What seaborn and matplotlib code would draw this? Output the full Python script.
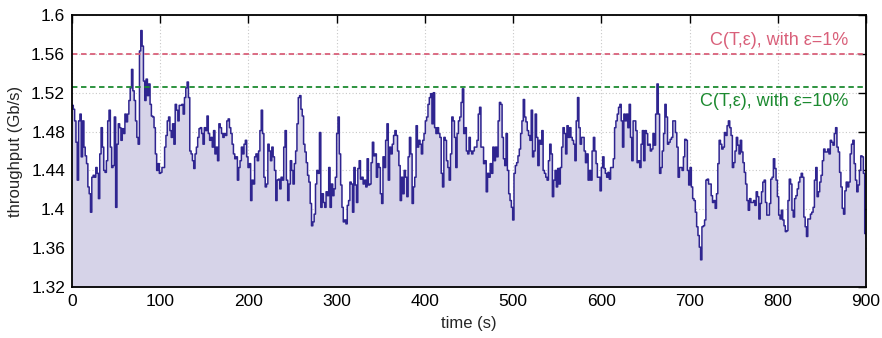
import numpy as np
import pandas as pd
import matplotlib
matplotlib.use("Agg")
import matplotlib.pyplot as plt
import seaborn as sns

# sampling interval (s)
dt = 1.5

# throughput samples (Gb/s), in consecutive time segments
seg_000_110 = [1.507, 1.503, 1.491, 1.469, 1.430, 1.491, 1.498, 1.454, 1.491, 1.464,
               1.455, 1.447, 1.423, 1.416, 1.397, 1.433, 1.435, 1.433, 1.443, 1.437,
               1.411, 1.457, 1.484, 1.464, 1.440, 1.438, 1.450, 1.491, 1.502, 1.464,
               1.443, 1.445, 1.495, 1.402, 1.467, 1.488, 1.484, 1.471, 1.483, 1.478,
               1.498, 1.490, 1.498, 1.512, 1.525, 1.544, 1.522, 1.512, 1.491, 1.474,
               1.467, 1.563, 1.584, 1.568, 1.532, 1.512, 1.534, 1.517, 1.529, 1.508,
               1.496, 1.495, 1.484, 1.457, 1.440, 1.447, 1.437, 1.438, 1.443, 1.443,
               1.464, 1.476, 1.491, 1.495]
seg_111_229 = [1.481, 1.474, 1.488, 1.467, 1.508, 1.502, 1.491, 1.507, 1.507, 1.508,
               1.498, 1.515, 1.525, 1.531, 1.515, 1.460, 1.457, 1.450, 1.442, 1.457,
               1.464, 1.474, 1.483, 1.484, 1.478, 1.467, 1.484, 1.481, 1.496, 1.478,
               1.471, 1.474, 1.464, 1.481, 1.457, 1.464, 1.450, 1.488, 1.484, 1.478,
               1.474, 1.478, 1.476, 1.491, 1.493, 1.484, 1.478, 1.467, 1.457, 1.452,
               1.454, 1.430, 1.443, 1.450, 1.464, 1.457, 1.467, 1.471, 1.454, 1.443,
               1.447, 1.409, 1.430, 1.426, 1.454, 1.457, 1.450, 1.460, 1.481, 1.502,
               1.478, 1.433, 1.423, 1.426, 1.467, 1.460, 1.450, 1.464, 1.454, 1.440]
seg_231_348 = [1.409, 1.430, 1.431, 1.421, 1.433, 1.430, 1.464, 1.481, 1.430, 1.409,
               1.426, 1.450, 1.440, 1.426, 1.447, 1.460, 1.488, 1.515, 1.517, 1.503,
               1.496, 1.467, 1.459, 1.448, 1.435, 1.428, 1.406, 1.383, 1.387, 1.395,
               1.426, 1.440, 1.437, 1.479, 1.402, 1.416, 1.407, 1.402, 1.418, 1.414,
               1.443, 1.402, 1.426, 1.414, 1.421, 1.433, 1.478, 1.495, 1.457, 1.425,
               1.402, 1.387, 1.389, 1.385, 1.404, 1.409, 1.428, 1.426, 1.397, 1.443,
               1.425, 1.407, 1.442, 1.450, 1.431, 1.433, 1.426, 1.430, 1.423, 1.452,
               1.425, 1.426, 1.448, 1.469, 1.455, 1.457, 1.433, 1.447, 1.443]
seg_350_467 = [1.416, 1.406, 1.454, 1.443, 1.471, 1.488, 1.430, 1.464, 1.457, 1.467,
               1.476, 1.481, 1.476, 1.460, 1.445, 1.409, 1.433, 1.416, 1.440, 1.433,
               1.413, 1.454, 1.474, 1.457, 1.406, 1.423, 1.433, 1.486, 1.464, 1.471,
               1.467, 1.457, 1.471, 1.478, 1.491, 1.495, 1.508, 1.515, 1.519, 1.488,
               1.520, 1.484, 1.478, 1.484, 1.478, 1.474, 1.437, 1.423, 1.474, 1.471,
               1.450, 1.443, 1.430, 1.457, 1.495, 1.491, 1.474, 1.443, 1.478, 1.491,
               1.495, 1.510, 1.524, 1.478, 1.484, 1.460, 1.457, 1.474, 1.460, 1.457,
               1.460, 1.464, 1.464, 1.471, 1.498, 1.505, 1.464, 1.464, 1.447]
seg_468_585 = [1.450, 1.418, 1.437, 1.433, 1.447, 1.437, 1.464, 1.450, 1.464, 1.454,
               1.491, 1.510, 1.508, 1.474, 1.452, 1.445, 1.478, 1.440, 1.416, 1.409,
               1.402, 1.389, 1.437, 1.445, 1.448, 1.455, 1.462, 1.478, 1.491, 1.513,
               1.495, 1.490, 1.481, 1.476, 1.471, 1.502, 1.454, 1.460, 1.498, 1.474,
               1.445, 1.471, 1.467, 1.481, 1.440, 1.437, 1.433, 1.430, 1.450, 1.467,
               1.457, 1.413, 1.430, 1.440, 1.423, 1.442, 1.426, 1.443, 1.464, 1.484,
               1.478, 1.457, 1.486, 1.474, 1.484, 1.474, 1.471, 1.467, 1.450, 1.491,
               1.515, 1.484, 1.467, 1.474, 1.474, 1.460, 1.448, 1.457, 1.430]
seg_586_704 = [1.440, 1.430, 1.460, 1.474, 1.460, 1.447, 1.433, 1.433, 1.419, 1.443,
               1.454, 1.442, 1.437, 1.433, 1.438, 1.431, 1.443, 1.443, 1.452, 1.484,
               1.491, 1.498, 1.505, 1.508, 1.491, 1.464, 1.498, 1.491, 1.498, 1.484,
               1.508, 1.474, 1.450, 1.491, 1.491, 1.481, 1.448, 1.450, 1.443, 1.467,
               1.481, 1.450, 1.481, 1.478, 1.466, 1.467, 1.460, 1.462, 1.478, 1.466,
               1.498, 1.529, 1.498, 1.437, 1.443, 1.460, 1.478, 1.508, 1.495, 1.467,
               1.469, 1.472, 1.474, 1.491, 1.491, 1.479, 1.464, 1.433, 1.443, 1.443,
               1.440, 1.454, 1.472, 1.471, 1.440, 1.425, 1.443, 1.423, 1.411]
seg_705_824 = [1.409, 1.397, 1.382, 1.373, 1.361, 1.348, 1.382, 1.383, 1.389, 1.430,
               1.431, 1.426, 1.426, 1.414, 1.407, 1.409, 1.401, 1.416, 1.447, 1.471,
               1.467, 1.462, 1.464, 1.479, 1.476, 1.486, 1.491, 1.484, 1.476, 1.443,
               1.448, 1.460, 1.474, 1.466, 1.457, 1.471, 1.459, 1.448, 1.438, 1.426,
               1.409, 1.399, 1.411, 1.407, 1.407, 1.409, 1.404, 1.418, 1.413, 1.390,
               1.406, 1.418, 1.428, 1.430, 1.407, 1.394, 1.394, 1.406, 1.431, 1.433,
               1.452, 1.442, 1.430, 1.413, 1.394, 1.390, 1.399, 1.389, 1.383, 1.377,
               1.378, 1.409, 1.431, 1.426, 1.399, 1.392, 1.411, 1.414, 1.421, 1.428]
seg_825_900 = [1.433, 1.437, 1.433, 1.392, 1.382, 1.372, 1.390, 1.390, 1.395, 1.397,
               1.402, 1.430, 1.443, 1.413, 1.418, 1.428, 1.435, 1.450, 1.462, 1.459,
               1.459, 1.462, 1.457, 1.471, 1.469, 1.466, 1.478, 1.484, 1.464, 1.459,
               1.438, 1.423, 1.401, 1.395, 1.419, 1.428, 1.423, 1.428, 1.457, 1.467,
               1.471, 1.447, 1.430, 1.418, 1.425, 1.440, 1.455, 1.454, 1.437, 1.375]

capacity_1pct = 1.56
capacity_10pct = 1.526
label_1pct = "C(T,ε), with ε=1%"
label_10pct = "C(T,ε), with ε=10%"

x_ticks = [0, 100, 200, 300, 400, 500, 600, 700, 800, 900]
y_ticks = [1.32, 1.36, 1.40, 1.44, 1.48, 1.52, 1.56, 1.60]
y_tick_labels = ["1.32", "1.36", "1.4", "1.44", "1.48", "1.52", "1.56", "1.6"]

values = np.array(seg_000_110 + seg_111_229 + seg_231_348 + seg_350_467 +
                  seg_468_585 + seg_586_704 + seg_705_824 + seg_825_900)
times = np.arange(len(values)) * dt
# close the last step at the end of the measurement window
times = np.append(times, 900.0)
values = np.append(values, values[-1])
df = pd.DataFrame({"time": times, "throughput": values})

sns.set_theme(style="white")
plt.rcParams["font.family"] = ["Liberation Sans", "DejaVu Sans"]

fig = plt.figure(figsize=(8.82, 3.38), dpi=100)
ax = fig.add_axes([0.0816, 0.1509, 0.9003, 0.8047])

line_color = "#2f2590"
fill_color = "#d6d3e8"

ax.fill_between(df["time"], df["throughput"], 1.32, step="post",
                color=fill_color, linewidth=0, zorder=1)
sns.lineplot(data=df, x="time", y="throughput", ax=ax, color=line_color,
             linewidth=1.1, drawstyle="steps-post", zorder=3)

ax.axhline(capacity_1pct, color="#d9607a", linestyle=(0, (3, 2)), linewidth=1.3, zorder=4)
ax.axhline(capacity_10pct, color="#1c8a30", linestyle=(0, (3, 2)), linewidth=1.3, zorder=4)
ax.text(880, 1.5735, label_1pct, color="#d9607a", fontsize=13, ha="right", va="center")
ax.text(880, 1.5105, label_10pct, color="#1c8a30", fontsize=13, ha="right", va="center")

ax.set_xlim(0, 900)
ax.set_ylim(1.32, 1.60)
ax.set_xticks(x_ticks)
ax.set_yticks(y_ticks)
ax.set_yticklabels(y_tick_labels)
ax.grid(True, color="#c8c8c8", linestyle=(0, (1, 2)), linewidth=0.8, zorder=0)
ax.set_axisbelow(True)
ax.tick_params(direction="in", length=6, width=1, top=True, right=True,
               labelsize=12.5, colors="black", pad=5)
for s in ax.spines.values():
    s.set_color("black")
    s.set_linewidth(1.3)
    s.set_zorder(5)
ax.set_xlabel("time (s)", fontsize=12, labelpad=5)
ax.set_ylabel("throughput (Gb/s)", fontsize=12, labelpad=6)

fig.savefig("out.png", dpi=100)
